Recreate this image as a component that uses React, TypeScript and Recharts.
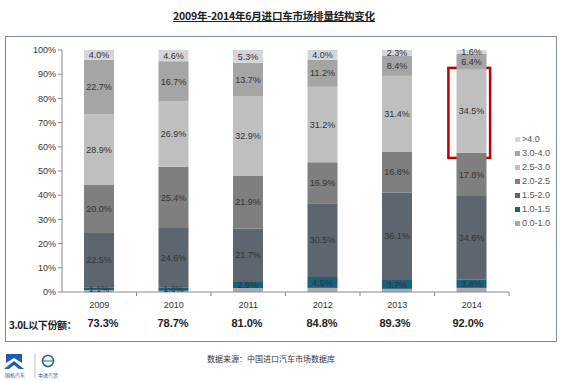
import React from "react";
import { BarChart, Bar, XAxis, YAxis, LabelList, ReferenceArea } from "recharts";

const years = ["2009", "2010", "2011", "2012", "2013", "2014"];

// bottom to top
const s00_10 = [0.8, 0.5, 1.6, 1.7, 1.3, 1.7];
const s10_15 = [1.1, 1.3, 2.9, 4.5, 3.7, 3.4];
const s15_20 = [22.5, 24.6, 21.7, 30.5, 36.1, 34.6];
const s20_25 = [20.0, 25.4, 21.9, 16.9, 16.8, 17.8];
const s25_30 = [28.9, 26.9, 32.9, 31.2, 31.4, 34.5];
const s30_40 = [22.7, 16.7, 13.7, 11.2, 8.4, 6.4];
const s40 = [4.0, 4.6, 5.3, 4.0, 2.3, 1.6];

const under3L = ["73.3%", "78.7%", "81.0%", "84.8%", "89.3%", "92.0%"];
const yTicks = [0, 10, 20, 30, 40, 50, 60, 70, 80, 90, 100];

const series = [
  { key: "s00_10", name: "0.0-1.0", color: "#a9abad", vals: s00_10, label: false },
  { key: "s10_15", name: "1.0-1.5", color: "#17607e", vals: s10_15, label: true },
  { key: "s15_20", name: "1.5-2.0", color: "#5d666e", vals: s15_20, label: true },
  { key: "s20_25", name: "2.0-2.5", color: "#7f7f7f", vals: s20_25, label: true },
  { key: "s25_30", name: "2.5-3.0", color: "#bfbfbf", vals: s25_30, label: true },
  { key: "s30_40", name: "3.0-4.0", color: "#a5a5a5", vals: s30_40, label: true },
  { key: "s40", name: ">4.0", color: "#d3d6d9", vals: s40, label: true },
];

const data = years.map((y, i) => {
  const row: any = { year: y };
  series.forEach((s) => (row[s.key] = s.vals[i]));
  return row;
});

const FONT = "Arial, 'Liberation Sans', sans-serif";
const CJK = "'Noto Sans CJK SC', sans-serif";
const shareX = [103, 173, 247, 322, 395, 468];

const XTick = (props: any) => {
  const { x, y, payload } = props;
  return (
    <g>
      <line x1={x + 37.25} y1={y - 8} x2={x + 37.25} y2={y - 4} stroke="#888" />
      <text x={x} y={y + 8} textAnchor="middle" fontSize={9} fill="#333" fontFamily={FONT}>
        {payload.value}
      </text>
    </g>
  );
};

const RedBox = (props: any) => {
  const { x, y, width, height } = props;
  const inset = width * 0.22;
  return (
    <rect x={x + inset - 2.5} y={y} width={width - inset * 2} height={height}
      fill="none" stroke="#c00000" strokeWidth={2.5} />
  );
};

export default function App() {
  return (
    <div style={{ position: "absolute", left: 0, top: 0, width: 562, height: 381, background: "#fff" }}>
      <div style={{ position: "absolute", top: 8, left: 0, width: 548, textAlign: "center",
        fontFamily: CJK, fontWeight: 700, fontSize: 10.5, letterSpacing: -0.2, textDecoration: "underline", color: "#222" }}>
        2009年-2014年6月进口车市场排量结构变化
      </div>
      <div style={{ position: "absolute", left: 5, top: 36, width: 550, height: 304,
        border: "1.5px solid #7d9099" }} />
      <div style={{ position: "absolute", left: 0, top: 0 }}>
        <BarChart width={562} height={381} data={data}
          margin={{ top: 50, right: 53, left: 12, bottom: 69 }} barSize={30}>
          <XAxis dataKey="year" height={20} stroke="#888" tickLine={false} tick={<XTick />} interval={0} />
          <YAxis domain={[0, 100]} ticks={yTicks} width={50} stroke="#888" tickSize={4}
            tickFormatter={(v: number) => `${v}%`}
            tick={{ fontSize: 9, fill: "#333", fontFamily: FONT }} />
          {series.map((s) => (
            <Bar key={s.key} dataKey={s.key} name={s.name} stackId="a" fill={s.color} isAnimationActive={false}>
              {s.label && (
                <LabelList dataKey={s.key} position="center" fontSize={9} fill="#333" fontFamily={FONT}
                  formatter={(v: any) => `${Number(v).toFixed(1)}%`} />
              )}
            </Bar>
          ))}
          <ReferenceArea x1="2014" x2="2014" y1={55.4} y2={92.6} shape={<RedBox />} ifOverflow="visible" />
        </BarChart>
      </div>
      <div style={{ position: "absolute", left: 515, top: 132, fontFamily: FONT, fontSize: 9, color: "#555" }}>
        {[...series].reverse().map((s) => (
          <div key={s.key} style={{ display: "flex", alignItems: "center", height: 14 }}>
            <span style={{ width: 5, height: 5, background: s.color, marginRight: 2 }} />
            {s.name}
          </div>
        ))}
      </div>
      <div style={{ position: "absolute", left: 9, top: 317, fontFamily: CJK, fontWeight: 700, fontSize: 10,
        letterSpacing: -0.4, color: "#222" }}>
        3.0L以下份额：
      </div>
      {under3L.map((v, i) => (
        <div key={v} style={{ position: "absolute", left: shareX[i] - 25, width: 50, top: 317, textAlign: "center",
          fontFamily: FONT, fontWeight: 700, fontSize: 11, color: "#222" }}>
          {v}
        </div>
      ))}
      <div style={{ position: "absolute", left: 166, width: 210, top: 353, textAlign: "center",
        fontFamily: CJK, fontSize: 8, color: "#333" }}>
        数据来源：中国进口汽车市场数据库
      </div>
      <svg style={{ position: "absolute", left: 0, top: 350 }} width={70} height={31}>
        <path d="M6 4 L22 4 L22 13 L14 8 L6 13 Z" fill="#1f5fa8" />
        <path d="M4 19 L14 11 L24 19 L19 19 L14 15 L9 19 Z" fill="#1f5fa8" />
        <line x1={35} y1={4} x2={35} y2={28} stroke="#bbb" />
        <circle cx={48} cy={11} r={5.5} fill="none" stroke="#1f5fa8" strokeWidth={1.5} />
        <line x1={43} y1={11} x2={53} y2={11} stroke="#1f5fa8" />
        <text x={15} y={27} textAnchor="middle" fontSize={5} fill="#1f4f8a" fontFamily={CJK}>国机汽车</text>
        <text x={48} y={27} textAnchor="middle" fontSize={5} fill="#1f4f8a" fontFamily={CJK}>中进汽贸</text>
      </svg>
    </div>
  );
}
